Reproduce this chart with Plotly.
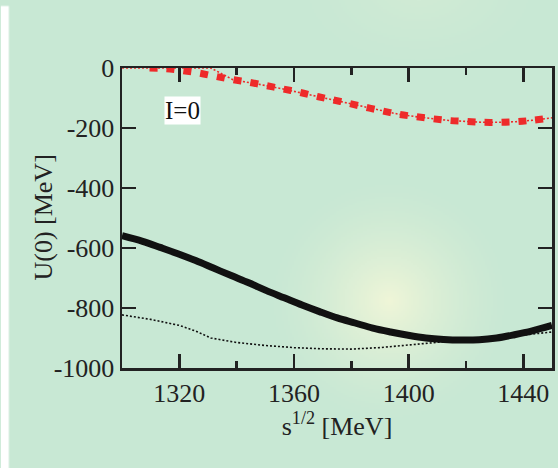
import base64, struct, zlib
import numpy as np
import plotly.graph_objects as go

# ---------------- data ----------------
red_sq_x = [1309.6, 1315.2, 1321.4, 1326.9, 1332.7, 1338.7, 1344.6, 1350.4, 1356.2, 1361.9,
            1367.7, 1373.5, 1379.2, 1385.0, 1390.8, 1396.4, 1402.3, 1408.2, 1414.0, 1419.9,
            1425.8, 1431.7, 1437.5, 1443.3, 1450.0]
red_sq_y = [0, -2, -9, -17, -28, -39, -48, -59, -70, -81,
            -94, -106, -118, -131, -143, -154, -162, -169, -175, -178,
            -181, -181, -179, -174, -166]

red_dot_x = [1300, 1331, 1338.7, 1344.6, 1350.4, 1356.2, 1361.9, 1367.7, 1373.5, 1379.2,
             1385.0, 1390.8, 1396.4, 1402.3, 1408.2, 1414.0, 1419.9, 1425.8, 1431.7, 1437.5,
             1443.3, 1450.0]
red_dot_y = [0, 0, -39, -48, -59, -70, -81, -94, -106, -118,
             -131, -143, -154, -162, -169, -175, -178, -181, -181, -179,
             -174, -166]

blk_x = [1300, 1307.2, 1313.3, 1319.5, 1325.7, 1331.9, 1338.1, 1344.2, 1350.4, 1356.6,
         1362.8, 1368.9, 1375.1, 1381.3, 1387.5, 1393.7, 1399.8, 1406.0, 1412.2, 1418.4,
         1424.6, 1430.7, 1436.9, 1443.1, 1450]
blk_y = [-559, -578, -598, -619, -642, -667, -692, -716, -742, -766,
         -790, -812, -833, -850, -867, -880, -891, -900, -905, -907,
         -906, -900, -889, -876, -858]

blkdot_x = [1300, 1310, 1320, 1326, 1331, 1340, 1350, 1360, 1370, 1380,
            1390, 1400, 1410, 1420, 1430, 1440, 1450]
blkdot_y = [-823, -838, -858, -878, -900, -915, -925, -932, -936, -937,
            -932, -923, -914, -905, -897, -890, -880]

x_ticks = [1320, 1360, 1400, 1440]
x_minor = [1340, 1380, 1420]
y_ticks = [0, -200, -400, -600, -800, -1000]
y_ticktext = ["0", "-200", "-400", "-600", "-800", "-1000"]

# ---------------- background image (gradient) ----------------
W, H = 558, 468
ML, MR, MT, MB = 122, 3, 68, 100
PW, PH = W - ML - MR, H - MT - MB

def make_bg():
    w, h = W // 2, H // 2
    yy, xx = np.mgrid[0:h, 0:w].astype(float) * 2
    base = np.array([200, 232, 212], float)
    img = np.ones((h, w, 3)) * base
    d = np.sqrt((xx - 390) ** 2 + (yy - 300) ** 2)
    g = np.clip(1 - d / 130, 0, 1) ** 1.6
    glow = np.array([240, 246, 216], float)
    img = img * (1 - g[..., None]) + glow * g[..., None]
    d2 = np.sqrt(((xx - 420) / 1.6) ** 2 + ((yy + 10) / 1.0) ** 2)
    g2 = np.clip(1 - d2 / 90, 0, 1) ** 1.5 * 0.6
    top = np.array([216, 238, 214], float)
    img = img * (1 - g2[..., None]) + top * g2[..., None]
    img[(xx < 8) & (yy >= 6)] = 255
    img = np.clip(img, 0, 255).astype(np.uint8)
    raw = b"".join(b"\x00" + img[r].tobytes() for r in range(h))

    def chunk(t, d):
        c = struct.pack(">I", len(d)) + t + d
        return c + struct.pack(">I", zlib.crc32(t + d) & 0xffffffff)

    png = b"\x89PNG\r\n\x1a\n" + chunk(b"IHDR", struct.pack(">IIBBBBB", w, h, 8, 2, 0, 0, 0)) \
        + chunk(b"IDAT", zlib.compress(raw, 9)) + chunk(b"IEND", b"")
    return "data:image/png;base64," + base64.b64encode(png).decode()

FONT = "Liberation Serif, Times New Roman, serif"
INK = "#222222"

fig = go.Figure()
fig.add_trace(go.Scatter(x=blkdot_x, y=blkdot_y, mode="lines",
                         line=dict(color="#111111", width=1.6, dash="2px,2px"), hoverinfo="skip"))
fig.add_trace(go.Scatter(x=blk_x, y=blk_y, mode="lines", line_shape="spline",
                         line=dict(color="#111111", width=7), hoverinfo="skip"))
fig.add_trace(go.Scatter(x=red_dot_x, y=red_dot_y, mode="lines",
                         line=dict(color="#ee2a2a", width=1.6, dash="2px,2px"), hoverinfo="skip"))
fig.add_trace(go.Scatter(x=red_sq_x, y=red_sq_y, mode="lines", line_shape="spline",
                         line=dict(color="#ee2a2a", width=7, dash="8px,9px"), hoverinfo="skip"))

fig.add_annotation(x=1321.1, y=-143, xref="x", yref="y", text="I=0", showarrow=False,
                   bgcolor="white", borderpad=0,
                   font=dict(family=FONT, size=25, color="#111111"))

# y-axis title placed as a rotated annotation (matches reference position)
fig.add_annotation(x=(42 - ML) / PW, y=0.5, xref="paper", yref="paper", text="U(0) [MeV]",
                   textangle=-90, showarrow=False, xanchor="center", yanchor="middle",
                   font=dict(family=FONT, size=26, color=INK))

fig.add_layout_image(dict(source=make_bg(), xref="paper", yref="paper",
                          x=-ML / PW, y=(PH + MT) / PH, sizex=W / PW, sizey=H / PH,
                          xanchor="left", yanchor="top", sizing="stretch", layer="below"))

fig.update_layout(
    width=W, height=H, margin=dict(l=ML, r=MR, t=MT, b=MB),
    paper_bgcolor="#c8e8d4", plot_bgcolor="rgba(0,0,0,0)",
    showlegend=False, font=dict(family=FONT, color=INK),
    xaxis=dict(range=[1300, 1450], tickvals=x_ticks, ticks="inside", ticklen=14,
               tickwidth=2.5, tickcolor=INK, showline=True, linewidth=2.5, linecolor=INK,
               mirror="allticks", showgrid=False, zeroline=False,
               minor=dict(tickvals=x_minor, ticks="inside", ticklen=7, tickwidth=2.5, tickcolor=INK),
               tickfont=dict(family=FONT, size=26, color=INK),
               title=dict(text="s<sup>1/2</sup> [MeV]", font=dict(family=FONT, size=26, color=INK),
                          standoff=10)),
    yaxis=dict(range=[-1000, 0], tickvals=y_ticks, ticktext=y_ticktext, ticks="inside",
               ticklen=14, tickwidth=2.5, tickcolor=INK, showline=True, linewidth=2.5,
               linecolor=INK, mirror="allticks", showgrid=False, zeroline=False,
               tickfont=dict(family=FONT, size=26, color=INK)),
)

fig.write_html("out.html", config={"displayModeBar": False, "staticPlot": True},
               post_script="document.body.style.margin='0';document.body.style.overflow='hidden';")
